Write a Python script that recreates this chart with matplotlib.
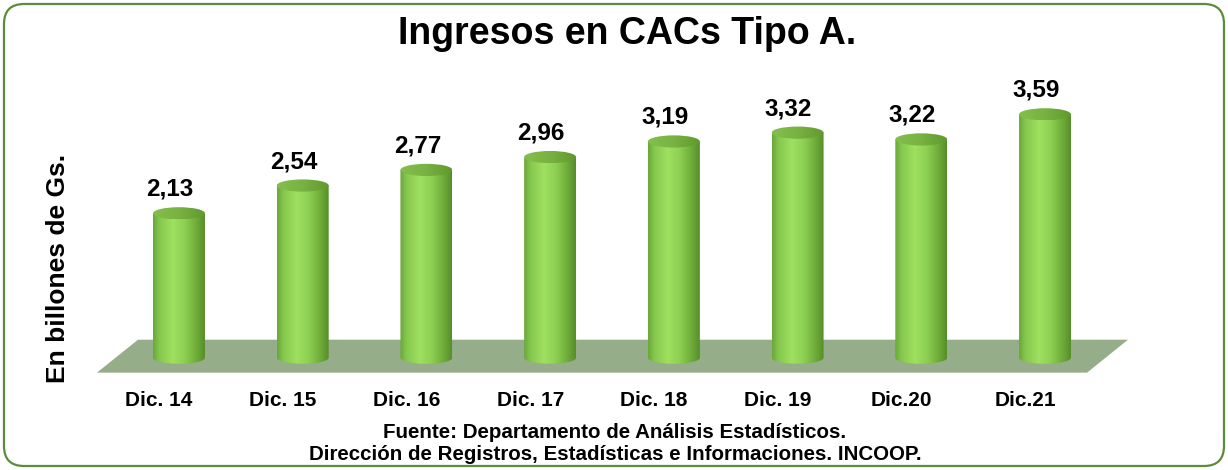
import numpy as np
import matplotlib
matplotlib.use("Agg")
from matplotlib import pyplot as plt
from matplotlib.patches import Polygon, Ellipse, FancyBboxPatch
from matplotlib.transforms import ScaledTranslation

plt.rcParams['font.family'] = ['Liberation Sans', 'DejaVu Sans']
plt.rcParams['font.weight'] = 'bold'

# data
categories = ["Dic. 14", "Dic. 15", "Dic. 16", "Dic. 17", "Dic. 18", "Dic. 19", "Dic.20", "Dic.21"]
ingresos = [2.13, 2.54, 2.77, 2.96, 3.19, 3.32, 3.22, 3.59]
value_labels = ["2,13", "2,54", "2,77", "2,96", "3,19", "3,32", "3,22", "3,59"]

title = "Ingresos en CACs Tipo A."
ylabel = "En billones de Gs."
footer = ("Fuente: Departamento de Análisis Estadísticos.\n"
          "Dirección de Registros, Estadísticas e Informaciones. INCOOP.")

W, H, DPI = 1228, 470, 100

# cylinder look
RX = 0.21      # half width, category units
RY = 0.09      # ellipse half height, value units
body_stops = [0.0, 0.12, 0.38, 0.62, 0.85, 1.0]
body_colors = ["#6aa83a", "#86c84e", "#9fe060", "#8ccf52", "#6eaa38", "#568f2a"]
top_stops = [0.0, 0.5, 1.0]
top_colors = ["#84bf4c", "#78b242", "#62992f"]


def gradient(stops, colors, n=64):
    rgb = np.array([matplotlib.colors.to_rgb(c) for c in colors])
    t = np.linspace(0, 1, n)
    cols = [np.interp(t, stops, rgb[:, k]) for k in range(3)]
    return np.dstack(cols)


fig = plt.figure(figsize=(W / DPI, H / DPI), dpi=DPI)

# background axes in pixel units for frame and texts
bg = fig.add_axes([0, 0, 1, 1])
bg.set_xlim(0, W)
bg.set_ylim(H, 0)
bg.axis("off")
bg.add_patch(FancyBboxPatch((4, 4), W - 8, H - 8,
                            boxstyle="round,pad=0,rounding_size=20",
                            fc="white", ec="#5b8c3a", lw=1.6))
bg.text(627, 34, title, ha="center", va="center", fontsize=27, fontweight="bold")
bg.text(58, 268, ylabel, ha="center", va="center", rotation=90, fontsize=19, fontweight="bold")
bg.text(615, 444, footer, ha="center", va="center", fontsize=14.8, fontweight="bold",
        linespacing=1.2)

# plot axes
ax = fig.add_axes([80 / W, 1 - 378 / H, 1064 / W, 305 / H])
ax.set_facecolor("none")
for s in ax.spines.values():
    s.set_visible(False)

# floor
floor = Polygon([(-0.331, 0.265), (7.67, 0.265), (7.34, -0.221), (-0.663, -0.221)],
                closed=True, fc="#95ad89", ec="none", zorder=1)
ax.add_patch(floor)

body_img = gradient(body_stops, body_colors)
top_img = gradient(top_stops, top_colors)
t_arc = np.linspace(np.pi, 2 * np.pi, 60)

for i, v in enumerate(ingresos):
    xs = i + RX * np.cos(t_arc)
    ys = RY * np.sin(t_arc)
    pts = [(i - RX, v)] + list(zip(xs, ys)) + [(i + RX, v)]
    clip = Polygon(pts, closed=True, fc="none", ec="none")
    ax.add_patch(clip)
    im = ax.imshow(body_img, extent=[i - RX, i + RX, -RY, v], aspect="auto",
                   interpolation="bilinear", zorder=2)
    im.set_clip_path(clip)

    top = Ellipse((i, v), 2 * RX, 2 * RY, fc="none", ec="none")
    ax.add_patch(top)
    im2 = ax.imshow(top_img, extent=[i - RX, i + RX, v - RY, v + RY], aspect="auto",
                    interpolation="bilinear", zorder=3)
    im2.set_clip_path(top)

    ax.annotate(value_labels[i], xy=(i, v), xytext=(-9, 24), textcoords="offset pixels",
                ha="center", va="center", fontsize=17.5, fontweight="bold", zorder=4)

ax.set_xlim(-0.8, 7.8)
ax.set_ylim(-0.3, 4.2)
ax.set_yticks([])
ax.set_xticks(range(len(categories)))
ax.set_xticklabels(categories, fontsize=15, fontweight="bold")
ax.tick_params(axis="x", length=0, pad=9)
shift = ScaledTranslation(-20 / DPI, 0, fig.dpi_scale_trans)
for lab in ax.get_xticklabels():
    lab.set_transform(lab.get_transform() + shift)

fig.savefig("out.png", dpi=DPI)
